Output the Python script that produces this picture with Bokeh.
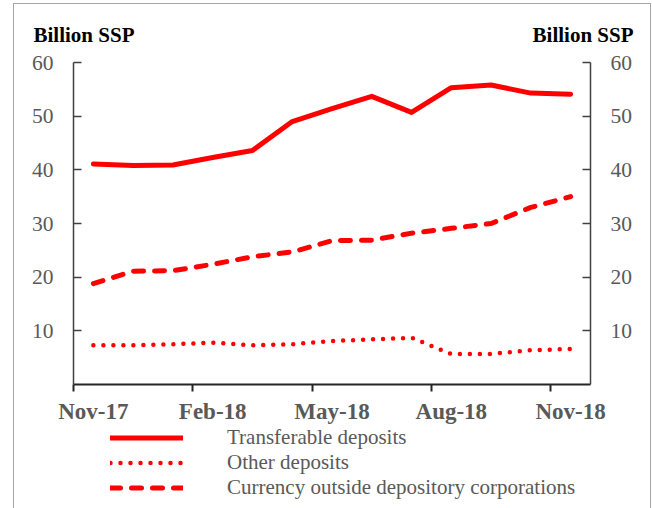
from bokeh.plotting import figure
from bokeh.models import (LinearAxis, FixedTicker, Range1d, Label, Legend, LegendItem)
from bokeh.embed import file_html
from bokeh.resources import INLINE

# ---- data (Billion SSP) ----
months = ["Nov-17", "Dec-17", "Jan-18", "Feb-18", "Mar-18", "Apr-18", "May-18",
          "Jun-18", "Jul-18", "Aug-18", "Sep-18", "Oct-18", "Nov-18"]
transferable = [41.1, 40.8, 40.9, 42.3, 43.6, 49.0, 51.4, 53.7, 50.7, 55.3, 55.8, 54.3, 54.1]
other = [7.3, 7.3, 7.5, 7.8, 7.3, 7.5, 8.1, 8.4, 8.7, 5.7, 5.7, 6.4, 6.6]
currency = [18.8, 21.1, 21.2, 22.4, 23.8, 24.7, 26.8, 26.9, 28.2, 29.1, 30.0, 33.0, 35.0]
series_names = ["Transferable deposits", "Other deposits",
                "Currency outside depository corporations"]
tick_labels = ["Nov-17", "Feb-18", "May-18", "Aug-18", "Nov-18"]
y_ticks = [10, 20, 30, 40, 50, 60]
unit_label = "Billion SSP"

# category centres (each month occupies one unit)
x = [i + 0.5 for i in range(len(months))]
label_pos = [months.index(m) + 0.5 for m in tick_labels]
boundary_pos = [months.index(m) for m in tick_labels]

FONT = "Liberation Serif"
RED = "#ff0000"
AXIS = "#404040"
GREY_TXT = "#595959"
W = 652
HEAD_H, MAIN_H, LEG_H = 45, 381, 82

STYLES = [dict(line_width=5, line_join="round", line_cap="round"),
          dict(line_width=4.5, line_dash="0 10", line_join="round", line_cap="round"),
          dict(line_width=5, line_dash="10 11", line_join="round", line_cap="round")]

G = "linear-gradient(#a6a6a6,#a6a6a6)"
SIDES = f"{G} 13px 0 / 1px 100% no-repeat, {G} 650px 0 / 1px 100% no-repeat"
TOP = (f"{G} 13px 3px / 1px 100% no-repeat, {G} 13px 3px / 638px 1px no-repeat, "
       f"{G} 650px 3px / 1px 100% no-repeat")


def bare(fig, bg):
    fig.grid.visible = False
    fig.outline_line_color = None
    fig.background_fill_color = None
    fig.border_fill_color = None
    fig.styles = {"background": bg}
    return fig


def strip(h, bg):
    return bare(figure(width=W, height=h, output_backend="svg", toolbar_location=None,
                       x_range=Range1d(0, W), y_range=Range1d(0, h),
                       x_axis_type=None, y_axis_type=None,
                       min_border_left=0, min_border_right=0,
                       min_border_top=0, min_border_bottom=0), bg)


# ---- header with the unit labels ----
head = strip(HEAD_H, TOP)
for xx, align in ((33, "left"), (633, "right")):
    head.add_layout(Label(x=xx, y=11, text=unit_label, text_align=align,
                          text_baseline="alphabetic", text_font=FONT, text_font_style="bold",
                          text_font_size="21px", text_color="black"))

# ---- main chart ----
p = bare(figure(width=W, height=MAIN_H, output_backend="svg", toolbar_location=None,
                x_range=Range1d(0, len(months)), y_range=Range1d(0, 60),
                min_border_left=73, min_border_right=62, min_border_top=17,
                min_border_bottom=42), SIDES)

xa = p.xaxis[0]
xa.ticker = FixedTicker(ticks=label_pos, minor_ticks=boundary_pos)
xa.major_label_overrides = {pos: lab for pos, lab in zip(label_pos, tick_labels)}
xa.major_tick_in = 0
xa.major_tick_out = 0
xa.minor_tick_in = 0
xa.minor_tick_out = 7
xa.minor_tick_line_color = "#262626"
xa.minor_tick_line_width = 2
xa.axis_line_color = "#262626"
xa.axis_line_width = 2
xa.major_label_text_font = FONT
xa.major_label_text_font_style = "bold"
xa.major_label_text_font_size = "23px"
xa.major_label_text_color = GREY_TXT
xa.major_label_standoff = 7


def style_y(ax):
    ax.ticker = FixedTicker(ticks=y_ticks, minor_ticks=[])
    ax.major_tick_in = 8
    ax.major_tick_out = 0
    ax.minor_tick_in = 0
    ax.minor_tick_out = 0
    ax.major_tick_line_color = AXIS
    ax.major_tick_line_width = 1.5
    ax.axis_line_color = AXIS
    ax.axis_line_width = 1.5
    ax.major_label_text_font = FONT
    ax.major_label_text_font_size = "21.5px"
    ax.major_label_text_color = GREY_TXT
    ax.major_label_standoff = 20


style_y(p.yaxis[0])
ry = LinearAxis()
style_y(ry)
p.add_layout(ry, "right")

for vals, st in zip([transferable, other, currency], STYLES):
    p.line(x, vals, line_color=RED, **st)

# ---- legend strip (keys only: one NaN point, nothing drawn) ----
leg = strip(LEG_H, SIDES)
items = []
for name, st in zip(series_names, STYLES):
    r = leg.line(x=[float("nan")], y=[float("nan")], line_color=RED, **st)
    items.append(LegendItem(label=name, renderers=[r]))
legend = Legend(items=items, location=(110, 8), orientation="vertical",
                glyph_width=73, glyph_height=21, label_height=21, label_standoff=44,
                spacing=0, padding=0, margin=0,
                border_line_color=None, background_fill_alpha=0,
                label_text_font=FONT, label_text_font_size="21px",
                label_text_color=GREY_TXT)
leg.add_layout(legend, "center")

open("out.html", "w").write(file_html([head, p, leg], INLINE))
